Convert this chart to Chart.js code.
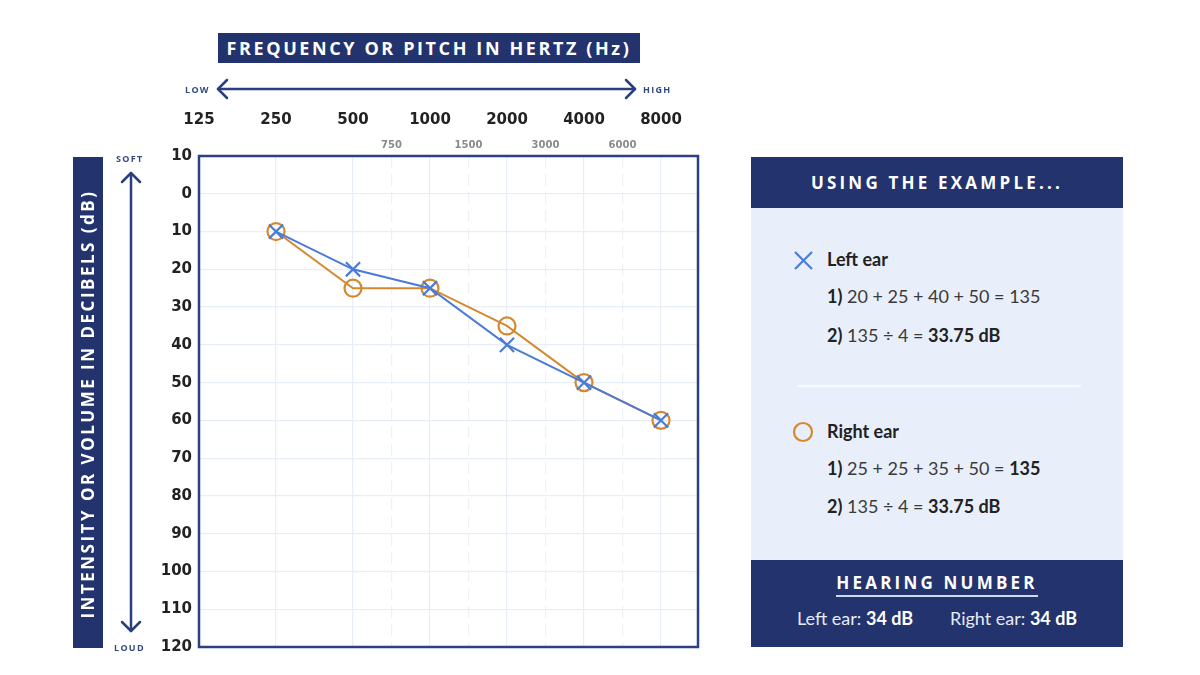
<!DOCTYPE html>
<html>
<head>
<meta charset="utf-8">
<script src="https://cdn.jsdelivr.net/npm/chart.js@4"></script>
<style>
  body { margin: 0; background: #fff; }
  #wrap { position: relative; width: 1200px; height: 675px; overflow: hidden; font-family: Lato, sans-serif; }
  #audiogram { position: absolute; left: 0; top: 0; }
  .navy { background: #22336e; color: #fff; }
  .caps { font-family: "Open Sans", sans-serif; font-weight: 700; font-size: 17px; }
  .abs { position: absolute; }
  .tiny { font-family: "Open Sans", sans-serif; font-weight: 700; font-size: 9px; color: #34497f; letter-spacing: 1.3px; }
  .txt { font-size: 18px; color: #3a3a3a; white-space: nowrap; }
  .txt b { color: #222; }
</style>
</head>
<body>
<div id="wrap">
  <canvas id="audiogram" width="1200" height="675"></canvas>

  <!-- titles -->
  <div class="abs navy caps" style="left:218px; top:33px; width:422px; height:30px; line-height:30px; text-align:center; font-size:18px; letter-spacing:2.6px;">FREQUENCY OR PITCH IN HERTZ (Hz)</div>
  <div class="abs navy caps" style="left:73px; top:157px; width:30px; height:491px;">
    <div style="position:absolute; left:15px; top:247px; width:491px; transform:translate(-50%,-50%) rotate(-90deg); text-align:center; line-height:30px; white-space:nowrap; letter-spacing:2.5px;">INTENSITY OR VOLUME IN DECIBELS (dB)</div>
  </div>

  <!-- arrows -->
  <svg class="abs" style="left:0; top:0;" width="760" height="675">
    <g stroke="#2a3f7e" stroke-width="2.5" fill="none" stroke-linecap="round" stroke-linejoin="round">
      <line x1="218" y1="89" x2="635" y2="89"/>
      <polyline points="227,80 218,89 227,98"/>
      <polyline points="626,80 635,89 626,98"/>
      <line x1="131" y1="173" x2="131" y2="631"/>
      <polyline points="122,182 131,173 140,182"/>
      <polyline points="122,622 131,631 140,622"/>
    </g>
  </svg>
  <div class="abs tiny" style="left:185px; top:83px;">LOW</div>
  <div class="abs tiny" style="left:643px; top:83px;">HIGH</div>
  <div class="abs tiny" style="left:116px; top:152px;">SOFT</div>
  <div class="abs tiny" style="left:114px; top:641px;">LOUD</div>

  <!-- example panel -->
  <div class="abs" style="left:751px; top:157px; width:372px; height:490px; background:#e8effb;">
    <div class="abs navy caps" style="left:0; top:0; width:372px; height:51px; line-height:52px; text-align:center; letter-spacing:3.2px;">USING THE EXAMPLE...</div>

    <svg class="abs" style="left:42px; top:93px;" width="21" height="21">
      <g stroke="#4a7bd8" stroke-width="2.2"><line x1="2" y1="2" x2="19" y2="19"/><line x1="19" y1="2" x2="2" y2="19"/></g>
    </svg>
    <div class="abs txt" style="left:76px; top:91px;"><b>Left ear</b></div>
    <div class="abs txt" style="left:76px; top:128px;"><b>1)</b> 20 + 25 + 40 + 50 = 135</div>
    <div class="abs txt" style="left:76px; top:167px;"><b>2)</b> 135 ÷ 4 = <b>33.75 dB</b></div>

    <div class="abs" style="left:46px; top:228px; width:284px; height:2px; background:#f6f9fe;"></div>

    <svg class="abs" style="left:41px; top:264px;" width="22" height="22">
      <circle cx="11" cy="11" r="9" stroke="#d5892e" stroke-width="2.2" fill="none"/>
    </svg>
    <div class="abs txt" style="left:76px; top:263px;"><b>Right ear</b></div>
    <div class="abs txt" style="left:76px; top:300px;"><b>1)</b> 25 + 25 + 35 + 50 = <b>135</b></div>
    <div class="abs txt" style="left:76px; top:338px;"><b>2)</b> 135 ÷ 4 = <b>33.75 dB</b></div>

    <div class="abs navy" style="left:0; top:403px; width:372px; height:87px;">
      <div class="abs caps" style="left:0; top:11px; width:372px; text-align:center; letter-spacing:3.2px;"><span style="border-bottom:2px solid #cfd8ee; padding-bottom:1px;">HEARING NUMBER</span></div>
      <div class="abs" style="left:0; top:47px; width:372px; text-align:center; font-size:18px; white-space:nowrap; color:#e6ebf6;">Left ear: <b style="color:#fff">34 dB</b>&nbsp;&nbsp;&nbsp;&nbsp;&nbsp;&nbsp;&nbsp;&nbsp;Right ear: <b style="color:#fff">34 dB</b></div>
    </div>
  </div>
</div>

<script>
// Audiogram data
const freqs = [250, 500, 1000, 2000, 4000, 8000];
const majorTicks = [125, 250, 500, 1000, 2000, 4000, 8000];
const midLabels = ['750', '1500', '3000', '6000'];
const dbTicks = [-10, 0, 10, 20, 30, 40, 50, 60, 70, 80, 90, 100, 110, 120];
const leftEar = [10, 20, 25, 40, 50, 60];
const rightEar = [10, 25, 25, 35, 50, 60];

const navy = '#2b3f85';
const gridColor = '#e8eef8';
const xMin = 125;
const xMax = 125 * Math.pow(2, 499 / 77);

// half-octave positions between 500..8000, labelled as 750, 1500...
const midTicks = [];
for (let i = 1; i < freqs.length - 1; i++) {
    midTicks.push(Math.sqrt(freqs[i] * freqs[i + 1]));
}

const framePlugin = {
    id: 'frame',
    afterDatasetsDraw(chart) {
        const a = chart.chartArea;
        const ctx = chart.ctx;
        ctx.save();
        ctx.strokeStyle = navy;
        ctx.lineWidth = 2.5;
        ctx.strokeRect(a.left, a.top, a.right - a.left, a.bottom - a.top);
        ctx.restore();
    }
};

const ctx = document.getElementById('audiogram').getContext('2d');
const audiogram = new Chart(ctx, {
    type: 'line',
    data: {
        datasets: [{
            label: 'Left ear',
            data: freqs.map((f, i) => ({ x: f, y: leftEar[i] })),
            borderColor: '#4a7bd8',
            borderWidth: 2,
            pointStyle: 'crossRot',
            pointRadius: 10,
            pointBorderWidth: 2.2,
            pointBorderColor: '#4a7bd8',
            pointBackgroundColor: 'transparent',
            xAxisID: 'x'
        }, {
            label: 'Right ear',
            data: freqs.map((f, i) => ({ x: f, y: rightEar[i] })),
            borderColor: '#d5892e',
            borderWidth: 2,
            pointStyle: 'circle',
            pointRadius: 8.5,
            pointBorderWidth: 2.2,
            pointBorderColor: '#d5892e',
            pointBackgroundColor: 'transparent',
            xAxisID: 'x'
        }]
    },
    options: {
        responsive: false,
        animation: false,
        layout: { padding: { left: 0, top: 0, right: 502, bottom: 28 } },
        plugins: {
            legend: { display: false },
            tooltip: { enabled: false }
        },
        scales: {
            x: {
                type: 'logarithmic',
                position: 'top',
                weight: 1,
                min: xMin,
                max: xMax,
                afterBuildTicks: s => { s.ticks = majorTicks.map(v => ({ value: v })); },
                afterFit: s => { s.height = 130; },
                grid: { color: gridColor, lineWidth: 1.2, drawTicks: false },
                border: { display: false },
                ticks: {
                    autoSkip: false,
                    maxRotation: 0,
                    padding: 1,
                    color: '#222',
                    font: { family: 'DejaVu Sans', weight: 'bold', size: 15 },
                    callback: v => String(v)
                }
            },
            x2: {
                type: 'logarithmic',
                position: 'top',
                weight: 0,
                min: xMin,
                max: xMax,
                afterBuildTicks: s => { s.ticks = midTicks.map(v => ({ value: v })); },
                afterFit: s => { s.height = 26; },
                grid: { color: '#edf1f8', lineWidth: 1.2, drawTicks: false },
                border: { display: false, dash: [12, 6] },
                ticks: {
                    autoSkip: false,
                    maxRotation: 0,
                    padding: 5,
                    color: '#8a8a8a',
                    font: { family: 'DejaVu Sans', weight: 'bold', size: 10 },
                    callback: (v, i) => midLabels[i]
                }
            },
            y: {
                type: 'linear',
                reverse: true,
                min: -10,
                max: 120,
                afterBuildTicks: s => { s.ticks = dbTicks.map(v => ({ value: v })); },
                afterFit: s => { s.width = 199; },
                grid: { color: gridColor, lineWidth: 1.2, drawTicks: false },
                border: { display: false },
                ticks: {
                    autoSkip: false,
                    padding: 7,
                    color: '#222',
                    font: { family: 'DejaVu Sans', weight: 'bold', size: 15 },
                    callback: v => String(Math.abs(v))
                }
            }
        }
    },
    plugins: [framePlugin]
});
</script>
</body>
</html>
